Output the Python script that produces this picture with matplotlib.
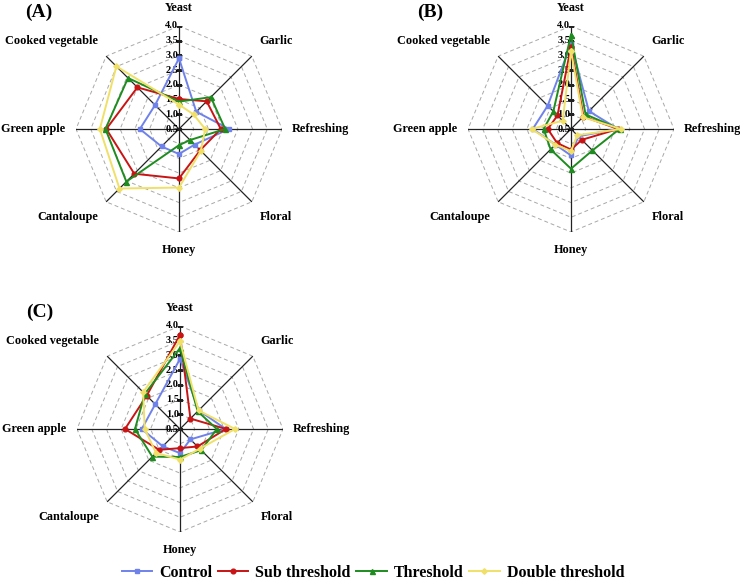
import numpy as np
import matplotlib
matplotlib.use("Agg")
import matplotlib.pyplot as plt
from matplotlib.lines import Line2D

plt.rcParams['font.family'] = ['Liberation Serif', 'DejaVu Serif']
plt.rcParams['font.weight'] = 'bold'

categories = ["Yeast", "Garlic", "Refreshing", "Floral", "Honey",
              "Cantaloupe", "Green apple", "Cooked vegetable"]
series_names = ["Control", "Sub threshold", "Threshold", "Double threshold"]
tick_values = [0.5, 1.0, 1.5, 2.0, 2.5, 3.0, 3.5, 4.0]
tick_labels = ["0.5", "1.0", "1.5", "2.0", "2.5", "3.0", "3.5", "4.0"]

A_control = [2.9, 1.33, 2.2, 1.25, 1.35, 1.34, 1.83, 1.65]
A_sub = [1.52, 1.83, 1.92, 1.52, 2.18, 2.65, 2.97, 2.5]
A_thr = [1.43, 2.03, 2.07, 1.03, 1.05, 3.03, 3.0, 2.95]
A_dbl = [1.33, 1.2, 1.39, 1.55, 2.49, 3.36, 3.19, 3.51]

B_control = [3.4, 1.36, 2.1, 0.85, 1.4, 1.25, 1.8, 1.62]
B_sub = [3.3, 1.1, 2.1, 1.02, 1.2, 1.17, 1.29, 1.15]
B_thr = [3.7, 1.2, 2.15, 1.53, 1.85, 1.48, 1.43, 1.35]
B_dbl = [3.15, 1.07, 2.2, 0.8, 1.25, 1.25, 1.84, 0.9]

C_control = [2.88, 1.4, 2.05, 1.0, 1.32, 1.33, 1.8, 1.69]
C_sub = [3.7, 1.0, 2.06, 1.34, 1.15, 1.5, 2.37, 2.1]
C_thr = [3.25, 1.35, 1.75, 1.52, 1.45, 1.83, 2.03, 2.19]
C_dbl = [3.48, 1.39, 2.37, 1.45, 1.54, 1.65, 1.7, 2.27]

colors = ["#6f82ea", "#c81414", "#1e8c1e", "#f0e068"]
markers = ["s", "o", "^", "D"]
msizes = [3.2, 3.4, 3.6, 2.8]

panels = [
    ("(A)", [A_control, A_sub, A_thr, A_dbl], (179, 129)),
    ("(B)", [B_control, B_sub, B_thr, B_dbl], (571, 129)),
    ("(C)", [C_control, C_sub, C_thr, C_dbl], (180, 429)),
]

W, H = 740, 580
R = 103
fig = plt.figure(figsize=(W / 100, H / 100), dpi=100)

n = len(categories)
angles = np.linspace(0, 2 * np.pi, n, endpoint=False)
closed = np.concatenate([angles, angles[:1]])

# label placement (offset pixels, ha, va)
label_specs = [
    ((0, 18), "center", "center"),
    ((8, 15), "left", "center"),
    ((10, 0), "left", "center"),
    ((8, -15), "left", "center"),
    ((0, -18), "center", "center"),
    ((-8, -15), "right", "center"),
    ((-11, 0), "right", "center"),
    ((-8, 15), "right", "center"),
]

for title, series, (cx, cy) in panels:
    ax = fig.add_axes([(cx - R) / W, 1 - (cy + R) / H, 2 * R / W, 2 * R / H],
                      projection="polar")
    ax.set_theta_zero_location("N")
    ax.set_theta_direction(-1)
    ax.set_ylim(0.5, 4.0)
    ax.grid(False)
    ax.spines["polar"].set_visible(False)
    ax.set_xticks([])
    ax.set_yticks([])
    ax.patch.set_alpha(0)

    for r in tick_values[1:]:
        ax.plot(closed, [r] * len(closed), color="#a8a8a8", lw=0.7,
                ls=(0, (4, 3)), zorder=1)
    for a in angles:
        ax.plot([a, a], [0.5, 4.0], color="#222222", lw=0.9, zorder=2)
    ax.plot([0] * len(tick_values), tick_values, ls="none", marker="_",
            ms=4, mew=0.8, color="#222222", zorder=2)
    for v, t in zip(tick_values, tick_labels):
        ax.annotate(t, xy=(0, v), xytext=(-1, 0), textcoords="offset pixels",
                    ha="right", va="center", fontsize=7.5, fontweight="bold",
                    zorder=3)

    for vals, c, m, ms in zip(series, colors, markers, msizes):
        v = list(vals) + [vals[0]]
        ax.plot(closed, v, color=c, lw=1.4, marker=m, ms=ms, zorder=4,
                clip_on=False)

    for a, cat, (off, ha, va) in zip(angles, categories, label_specs):
        ax.annotate(cat, xy=(a, 4.0), xytext=off, textcoords="offset pixels",
                    ha=ha, va=va, fontsize=8.8, fontweight="bold",
                    annotation_clip=False)

    fig.text((cx - 154) / W, 1 - (cy - 117) / H, title, fontsize=14,
             fontweight="bold", ha="left", va="center")

handles = [Line2D([0], [0], color=c, lw=1.4, marker=m, ms=ms)
           for c, m, ms in zip(colors, markers, msizes)]
fig.legend(handles, series_names, loc="center", bbox_to_anchor=(0.504, 0.012),
           ncol=4, frameon=False, prop={"size": 11.5, "weight": "bold"},
           handlelength=1.9, handletextpad=0.45, columnspacing=0.35,
           borderaxespad=0)

fig.savefig("out.png", dpi=100)
